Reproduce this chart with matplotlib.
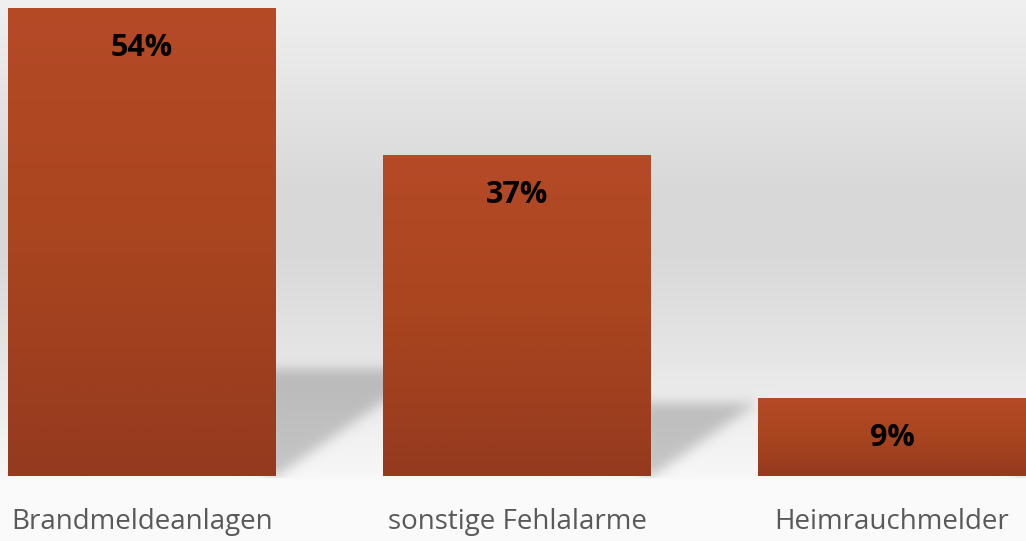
import matplotlib
matplotlib.use("Agg")
import matplotlib.pyplot as plt
import numpy as np
from matplotlib.colors import LinearSegmentedColormap

# data
categories = ["Brandmeldeanlagen", "sonstige Fehlalarme", "Heimrauchmelder"]
shares = [54, 37, 9]
value_labels = ["54%", "37%", "9%"]

W, H = 1026, 541
floor_px = 476  # baseline of the bars, measured from the top
bar_width = 0.714

plt.rcParams["font.family"] = ["Open Sans", "DejaVu Sans"]

fig = plt.figure(figsize=(W / 100, H / 100), dpi=100)
bg_ax = fig.add_axes([0, 0, 1, 1], zorder=0)
ax = fig.add_axes([0, (H - floor_px) / H, 1, floor_px / H], zorder=1)
ax.patch.set_alpha(0)

x = np.arange(len(categories))
ax.set_xlim(-0.378, 2.357)
ax.set_ylim(0, 54.9)

bars = ax.bar(x, shares, width=bar_width, color="none", edgecolor="none")

# gradient fill inside every bar (light top, dark bottom)
bar_cmap = LinearSegmentedColormap.from_list("bar", ["#953a1f", "#a9451f", "#b54a27"])
grad = np.linspace(0, 1, 256).reshape(-1, 1)
for b in bars:
    x0, y0 = b.get_x(), b.get_y()
    im = ax.imshow(grad, cmap=bar_cmap, origin="lower", aspect="auto",
                   extent=[x0, x0 + b.get_width(), y0, y0 + b.get_height()],
                   zorder=2)
    im.set_clip_path(b)
ax.set_xlim(-0.378, 2.357)
ax.set_ylim(0, 54.9)

# background: vertical grey gradient plus blurred floor shadows
rows = np.arange(H)
stops_y = [0, 60, 190, 260, 330, 400, 476, 480, 541]
stops_v = [240, 233, 216, 217, 226, 236, 247, 250, 250]
col = np.interp(rows, stops_y, stops_v) / 255.0
bg = np.repeat(col[:, None], W, axis=1)

fig.canvas.draw()
mask = np.zeros((H, W))
xx, yy = np.meshgrid(np.arange(W), np.arange(H))
for b in bars:
    (px0, py0), (px1, py1) = ax.transData.transform(
        [(b.get_x(), 0), (b.get_x() + b.get_width(), b.get_height())])
    xr = px1
    hs = 0.23 * (py1 - py0)
    up = floor_px - yy  # height above floor in px
    tri = (xx >= xr - 10) & (up <= hs) & (up >= (xx - xr) * 0.7) & (up >= 0)
    mask[tri] = 1.0

k = np.exp(-0.5 * (np.arange(-18, 19) / 6.0) ** 2)
k /= k.sum()
mask = np.apply_along_axis(lambda r: np.convolve(r, k, mode="same"), 1, mask)
mask = np.apply_along_axis(lambda c: np.convolve(c, k, mode="same"), 0, mask)
mask[floor_px + 2:, :] = 0
bg = bg * (1 - 0.2 * mask)

bg_ax.imshow(np.dstack([bg, bg, bg]), aspect="auto", extent=[0, W, 0, H],
             origin="upper", interpolation="bilinear")
bg_ax.set_axis_off()

# value labels inside the bars
for b, lab in zip(bars, value_labels):
    ax.annotate(lab, (b.get_x() + b.get_width() / 2, b.get_height()),
                xytext=(0, -29), textcoords="offset points",
                ha="center", va="center", fontsize=22, fontweight="bold",
                color="black", zorder=3)

# category labels below
ax.set_xticks(x)
ax.set_xticklabels(categories, fontsize=20, color="#595959")
ax.tick_params(axis="x", length=0, pad=23)
ax.set_yticks([])
for s in ax.spines.values():
    s.set_visible(False)

fig.savefig("out.png", dpi=100)
